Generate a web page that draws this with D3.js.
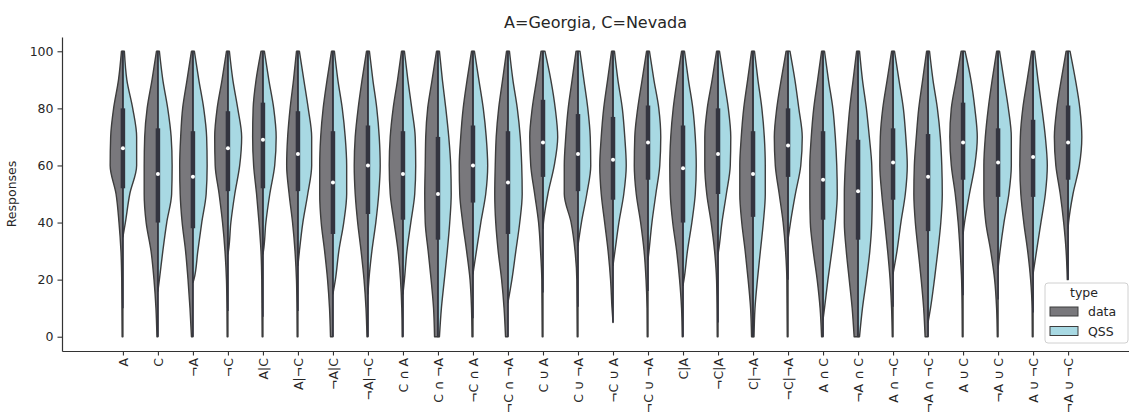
<!DOCTYPE html>
<html lang="en">
<head>
<meta charset="UTF-8">
<script src="https://d3js.org/d3.v7.min.js"></script>
<style>
    body { margin: 0; background: #fff; }
    text { font-family: "DejaVu Sans", sans-serif; fill: #262626; }
</style>
<title>A=Georgia, C=Nevada</title>
</head>
<body>
<svg id="chart" width="1129" height="417"></svg>
<script>
// categories along the x axis
var categories = ["A", "C", "¬A", "¬C", "A|C", "A|¬C", "¬A|C", "¬A|¬C",
    "C ∩ A", "C ∩ ¬A", "¬C ∩ A", "¬C ∩ ¬A", "C ∪ A", "C ∪ ¬A", "¬C ∪ A", "¬C ∪ ¬A",
    "C|A", "¬C|A", "C|¬A", "¬C|¬A", "A ∩ C", "¬A ∩ C", "A ∩ ¬C", "¬A ∩ ¬C",
    "A ∪ C", "¬A ∪ C", "A ∪ ¬C", "¬A ∪ ¬C"];

var types = ["data", "QSS"];
var yTicks = [0, 20, 40, 60, 80, 100];

// response levels where the density of each half was read
var levels = [0, 10, 20, 30, 40, 50, 60, 70, 80, 90, 100];

// inner box (quartiles and median) per category
var medians = [66, 57, 56, 66, 69, 64, 54, 60, 57, 50, 60, 54, 68, 64, 62, 68,
    59, 64, 57, 67, 55, 51, 61, 56, 68, 61, 63, 68];
var q1 = [52, 40, 38, 51, 52, 51, 36, 43, 41, 34, 47, 36, 56, 51, 48, 55,
    40, 50, 42, 56, 41, 34, 48, 37, 55, 49, 49, 55];
var q3 = [80, 73, 72, 79, 82, 79, 72, 74, 72, 70, 74, 72, 83, 78, 77, 81,
    74, 80, 72, 80, 72, 69, 73, 71, 82, 73, 76, 81];

// lowest response of each half
var dataMin = [0, 0, 0, 0, 0, 0, 0, 0, 0, 0, 0, 0, 0, 0, 5, 0,
    0, 0, 0, 0, 0, 0, 0, 0, 0, 0, 0, 20];
var qssMin = [35, 16, 19, 29, 29, 25, 15, 15, 15, 0, 22, 12, 38, 32, 25, 27,
    18, 29, 0, 34, 6, 0, 22, 5, 36, 24, 22, 38];

// density of the "data" half at each level
var dataDensity = [
    [0.8, 1, 1.2, 2, 4, 7, 13, 12.5, 9.5, 4.5, 1.5],
    [1, 2, 4, 7, 12, 14, 14, 13.5, 11, 6, 1.5],
    [1.5, 3, 5, 7.5, 11, 13, 13.5, 12.5, 10.5, 6, 1.5],
    [0.8, 1, 1.5, 3, 5.5, 9, 13, 13.5, 11, 6, 1.5],
    [0.8, 1, 1.2, 2, 4, 6.5, 9.5, 10.5, 10, 7, 2],
    [0.8, 1, 1.5, 3, 5.5, 9, 11.5, 10.5, 8, 4.5, 1.5],
    [2.5, 3.5, 5.5, 8.5, 12, 13.5, 13.5, 12.5, 10, 6, 1.5],
    [1, 2, 4, 7, 10.5, 13, 14, 13, 10, 6, 1.5],
    [0.8, 1.2, 2.5, 5, 9, 13, 14, 13, 10, 5.5, 1.5],
    [3.5, 4.5, 7, 10, 13, 13.5, 13, 12.5, 10.5, 6, 1.5],
    [1, 1.5, 3, 6.5, 10.5, 13.5, 14, 12.5, 10, 6, 1.5],
    [2.5, 4, 6.5, 10, 12.5, 13.5, 13, 12, 9.5, 5.5, 1.5],
    [0.8, 1, 1.2, 2.5, 4.5, 8.5, 12.5, 13.5, 11, 6.5, 2],
    [0.8, 1, 1.2, 3, 7, 14, 14, 12.5, 10, 6, 2],
    [null, 1, 2.5, 5, 8.5, 12, 13.5, 12, 9.5, 5.5, 1.5],
    [0.8, 1, 2, 4, 7.5, 12, 14, 13.5, 10.5, 6, 1.5],
    [0.8, 1.5, 3.5, 6.5, 10.5, 13, 13.5, 12.5, 10, 6, 1.5],
    [0.8, 1, 1.5, 3.5, 7, 11.5, 13.5, 13.5, 11, 6, 1.5],
    [1.5, 2.5, 5, 8, 11.5, 13.5, 13.5, 12, 9.5, 5.5, 1.5],
    [0.8, 1, 1.2, 2.5, 5, 9, 13, 14, 11.5, 7, 2],
    [1.5, 3, 6, 10, 13, 13.5, 13.5, 12, 9.5, 5.5, 1.5],
    [4, 6, 9, 12, 14, 14, 13, 11, 8.5, 5, 1.5],
    [0.8, 1.5, 3, 5.5, 8.5, 11.5, 13.5, 13, 10.5, 6, 1.5],
    [3, 4.5, 7, 10, 13, 14.5, 14, 12, 9.5, 5.5, 1.5],
    [0.8, 1, 1.5, 3, 5, 8, 12, 13.5, 12, 7, 2],
    [0.8, 1.5, 3.5, 7.5, 12.5, 14.5, 14.5, 13, 10, 6, 1.5],
    [0.8, 1, 2.5, 5.5, 9.5, 12.5, 13.5, 13, 10.5, 6, 1.5],
    [null, null, 0.8, 2, 4.5, 8, 12.5, 14, 11.5, 7, 2]
];

// density of the "QSS" half at each level
var qssDensity = [
    [null, null, null, null, 2.5, 7, 14, 14, 10, 4, 1.5],
    [null, null, 1.5, 5, 9, 14, 14.5, 13.5, 10, 5, 1.5],
    [null, null, 1, 5, 9, 13.5, 14.5, 14, 11, 6, 1.5],
    [null, null, null, 0.5, 3, 7, 12, 14, 10, 5, 1.5],
    [null, null, null, 0.5, 3, 7, 12, 13.5, 11, 6, 1.5],
    [null, null, null, 1.5, 5, 10, 14, 14, 10.5, 6, 1.5],
    [null, null, 2.5, 6, 11, 14, 14, 12.5, 9.5, 5, 1.5],
    [null, null, 1, 4, 8, 11, 12.5, 11.5, 9, 5, 1.5],
    [null, null, 1.5, 4, 8, 12, 13, 12.5, 9, 5, 1.5],
    [1.5, 3.5, 6.5, 9.5, 12, 13.5, 13, 11, 8, 4.5, 1.5],
    [null, null, null, 3.5, 8, 13, 15, 13.5, 10.5, 6, 1.5],
    [null, null, 4, 8, 12, 14.5, 14, 12.5, 9.5, 5, 1.5],
    [null, null, null, null, 0.5, 5, 11.5, 15, 12.5, 8, 2],
    [null, null, null, null, 3.5, 9, 13, 12.5, 10, 6, 2],
    [null, null, null, 2, 6, 11, 13.5, 12, 9.5, 5, 1.5],
    [null, null, null, 1, 4, 8, 12, 13, 11, 6, 1.5],
    [null, null, 1, 4.5, 9, 12.5, 13.5, 12.5, 10, 5.5, 1.5],
    [null, null, null, 0.5, 4, 8.5, 12.5, 13, 10.5, 6, 1.5],
    [1, 2, 4.5, 7.5, 10.5, 12.5, 12.5, 11.5, 9, 5, 1.5],
    [null, null, null, null, 2.5, 7.5, 13, 14.5, 11, 7, 2],
    [null, 1.5, 5, 9, 12.5, 14.5, 14, 12.5, 10, 5.5, 1.5],
    [1.5, 4.5, 8.5, 12, 14, 14.5, 14, 11.5, 8.5, 4.5, 1.5],
    [null, null, null, 4, 8, 12.5, 14.5, 13, 10.5, 6, 1.5],
    [null, 2.5, 6.5, 10, 13, 14.5, 14, 12.5, 9.5, 5, 1.5],
    [null, null, null, null, 1.5, 6.5, 12, 14.5, 12, 8, 2],
    [null, null, null, 2, 6, 11, 13.5, 13.5, 10.5, 6, 1.5],
    [null, null, null, 3.5, 8, 12.5, 14.5, 12.5, 9, 5, 1.5],
    [null, null, null, null, 0.5, 5, 11.5, 14, 12, 7.5, 2]
];

var colors = { data: "#79787c", QSS: "#a8d9e3" };
var edge = "#3d3d3d";

var svg = d3.select("#chart");
var plotLeft = 62, plotRight = 1129, plotTop = 37, plotBottom = 351;

var x = d3.scalePoint().domain(categories).range([plotLeft, plotRight]).padding(1.74);
var y = d3.scaleLinear().domain([-5, 105]).range([plotBottom, plotTop]);
var w = d3.scaleLinear().domain([0, 15]).range([0, x.step() * 0.42]);

function halfPoints(dens, min) {
    var pts = [];
    levels.forEach(function (v, i) {
        if (v >= min && dens[i] != null) pts.push({ v: v, d: dens[i] });
    });
    if (pts.length && pts[0].v > min) pts.unshift({ v: min, d: 0 });
    return pts;
}

var g = svg.append("g");

categories.forEach(function (c, i) {
    var cx = x(c);
    var halves = [
        { type: "data", pts: halfPoints(dataDensity[i], dataMin[i]), side: -1 },
        { type: "QSS", pts: halfPoints(qssDensity[i], qssMin[i]), side: 1 }
    ];
    halves.forEach(function (h) {
        var area = d3.area()
            .curve(d3.curveMonotoneY)
            .y(function (p) { return y(p.v); })
            .x0(cx)
            .x1(function (p) { return cx + h.side * w(p.d); });
        g.append("path")
            .attr("d", area(h.pts))
            .attr("fill", colors[h.type])
            .attr("stroke", edge)
            .attr("stroke-width", 1.4)
            .attr("stroke-linejoin", "round");
    });

    // inner box
    var iqr = q3[i] - q1[i];
    var lo = Math.max(dataMin[i], q1[i] - 1.5 * iqr);
    var hi = Math.min(100, q3[i] + 1.5 * iqr);
    g.append("line")
        .attr("x1", cx).attr("x2", cx)
        .attr("y1", y(lo)).attr("y2", y(hi))
        .attr("stroke", "#33343f").attr("stroke-width", 1.5);
    g.append("line")
        .attr("x1", cx).attr("x2", cx)
        .attr("y1", y(q1[i])).attr("y2", y(q3[i]))
        .attr("stroke", "#33343f").attr("stroke-width", 4.5);
    g.append("circle")
        .attr("cx", cx).attr("cy", y(medians[i]))
        .attr("r", 2)
        .attr("fill", "#fff");
});

// axes
var yAxis = svg.append("g")
    .attr("transform", "translate(" + plotLeft + ",0)")
    .call(d3.axisLeft(y).tickValues(yTicks).tickSize(4.5).tickSizeOuter(0).tickPadding(4));
var xAxis = svg.append("g")
    .attr("transform", "translate(0," + plotBottom + ")")
    .call(d3.axisBottom(x).tickSize(4.5).tickSizeOuter(0));

[yAxis, xAxis].forEach(function (ax) {
    ax.select(".domain").attr("stroke", "#333").attr("stroke-width", 1.2);
    ax.selectAll(".tick line").attr("stroke", "#333").attr("stroke-width", 1.1);
    ax.selectAll("text").style("font-size", "12.5px").attr("fill", "#262626")
        .style("font-family", "DejaVu Sans");
});

xAxis.selectAll(".tick text")
    .attr("transform", "rotate(-90)")
    .attr("text-anchor", "end")
    .attr("x", -7)
    .attr("y", 0)
    .attr("dy", "0.35em");

svg.append("text")
    .attr("x", (plotLeft + plotRight) / 2)
    .attr("y", 28)
    .attr("text-anchor", "middle")
    .style("font-size", "16px")
    .text("A=Georgia, C=Nevada");

svg.append("text")
    .attr("transform", "translate(16," + (plotTop + plotBottom) / 2 + ") rotate(-90)")
    .attr("text-anchor", "middle")
    .style("font-size", "12.5px")
    .text("Responses");

// legend
var legend = svg.append("g");
legend.append("rect")
    .attr("x", 1045).attr("y", 283)
    .attr("width", 83).attr("height", 60)
    .attr("rx", 3)
    .attr("fill", "#fff").attr("fill-opacity", 0.8)
    .attr("stroke", "#d0d0d0");
legend.append("text")
    .attr("x", 1084).attr("y", 297)
    .attr("text-anchor", "middle")
    .style("font-size", "12.5px")
    .text("type");
types.forEach(function (t, i) {
    legend.append("rect")
        .attr("x", 1050).attr("y", 307 + i * 19.5)
        .attr("width", 28).attr("height", 9)
        .attr("fill", colors[t]).attr("stroke", edge).attr("stroke-width", 1);
    legend.append("text")
        .attr("x", 1088).attr("y", 316 + i * 19.5)
        .style("font-size", "12.5px")
        .text(t);
});
</script>
</body>
</html>
